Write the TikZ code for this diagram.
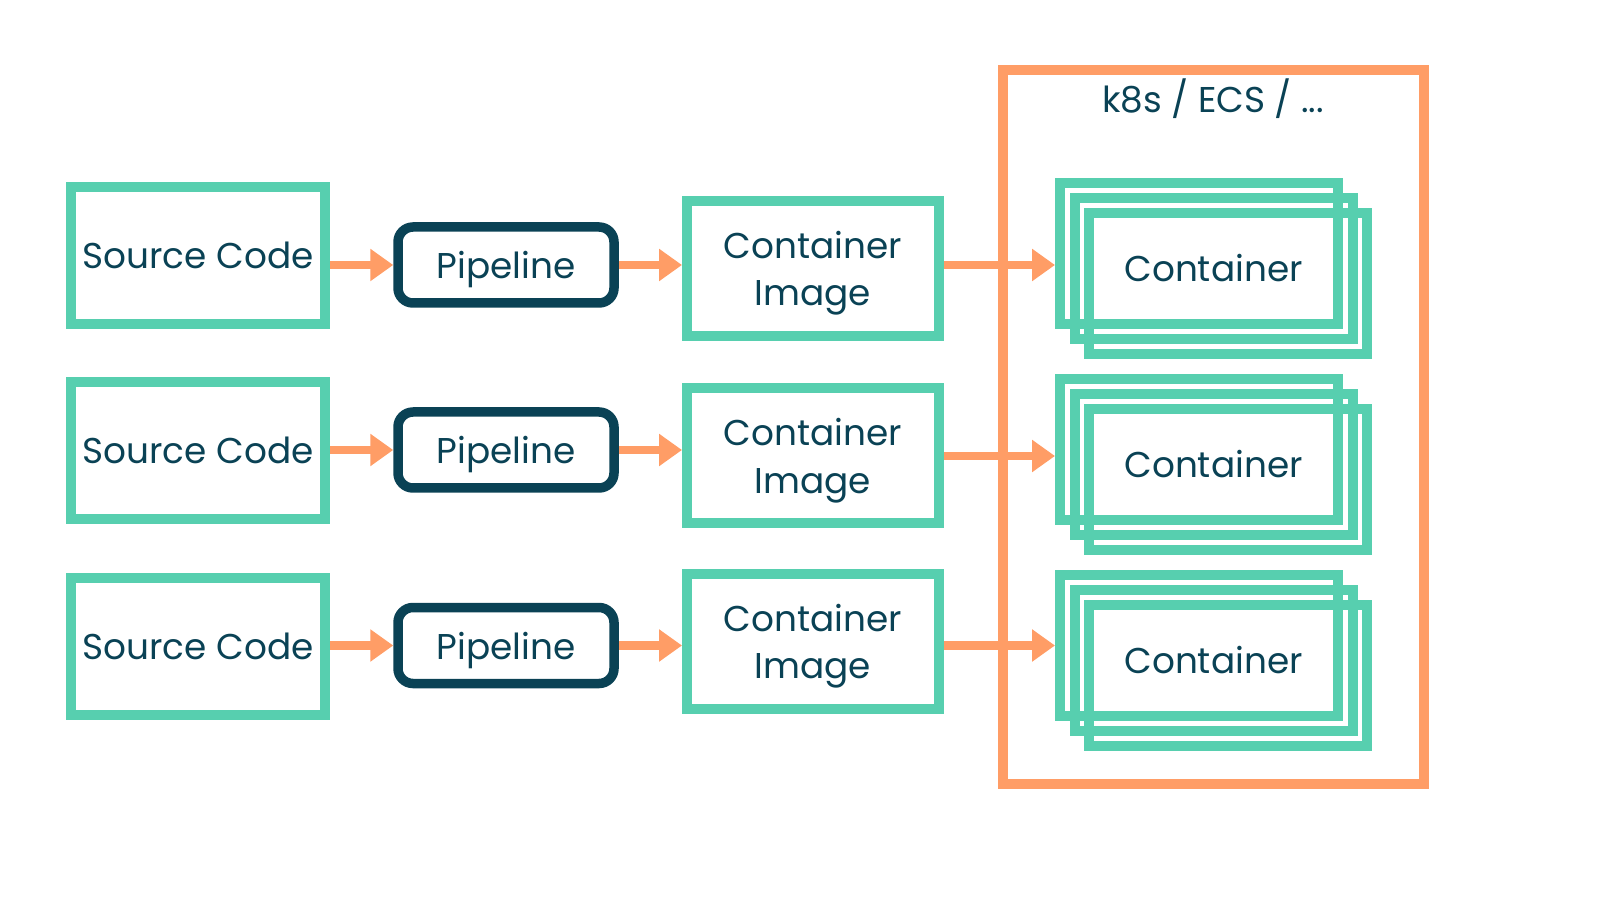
\documentclass[tikz,border=0pt]{standalone}
\usepackage{fontspec}
\setmainfont{Poppins}
\usetikzlibrary{arrows.meta}
\definecolor{mint}{HTML}{57CFAF}
\definecolor{navy}{HTML}{0A4255}
\definecolor{peach}{HTML}{FF9D66}

\begin{document}
\begin{tikzpicture}[
		every node/.style={text=navy, font=\fontsize{20.4}{27}\selectfont, align=center, inner sep=0pt},
		srcbox/.style={draw=mint, line width=0.2cm, minimum width=5.08cm, minimum height=2.74cm},
		pipebox/.style={draw=navy, line width=0.19cm, rounded corners=0.3cm, minimum width=4.32cm, minimum height=1.52cm, text depth=0pt},
		imgbox/.style={draw=mint, line width=0.2cm, minimum width=5.04cm, minimum height=2.7cm, text depth=-0.06cm},
		contbox/.style={draw=mint, line width=0.2cm, minimum width=5.56cm, minimum height=2.82cm},
		flow/.style={-{Triangle[length=0.46cm, width=0.62cm]}, draw=peach, line width=0.17cm}
	]
		\useasboundingbox (0,0) rectangle (32,18);

		% platform frame
		\node[draw=peach, line width=0.2cm, minimum width=8.42cm, minimum height=14.28cm] (platform) at (24.27,9.46) {};
		\node (platformlabel) at (24.26,16.02) {k8s / ECS / ...};

		% first row
		\node[srcbox] (src1) at (3.96,12.89) {Source Code};
		\node[pipebox] (pipe1) at (10.12,12.7) {Pipeline};
		\node[imgbox] (img1) at (16.26,12.63) {Container\\Image};
		\node[contbox] (cont1a) at (23.98,12.93) {};
		\node[contbox] (cont1b) at (24.27,12.63) {Container};
		\node[contbox] (cont1c) at (24.56,12.33) {};

		% second row
		\node[srcbox] (src2) at (3.96,8.99) {Source Code};
		\node[pipebox] (pipe2) at (10.12,9.0) {Pipeline};
		\node[imgbox] (img2) at (16.26,8.88) {Container\\Image};
		\node[contbox] (cont2a) at (23.98,9.01) {};
		\node[contbox] (cont2b) at (24.27,8.71) {Container};
		\node[contbox] (cont2c) at (24.56,8.41) {};

		% third row
		\node[srcbox] (src3) at (3.96,5.08) {Source Code};
		\node[pipebox] (pipe3) at (10.12,5.09) {Pipeline};
		\node[imgbox] (img3) at (16.26,5.17) {Container\\Image};
		\node[contbox] (cont3a) at (23.98,5.09) {};
		\node[contbox] (cont3b) at (24.27,4.79) {Container};
		\node[contbox] (cont3c) at (24.56,4.49) {};

		\draw[flow] (src1.east |- pipe1.west) -- (pipe1.west);
		\draw[flow] (pipe1.east) -- (img1.west |- pipe1.east);
		\draw[flow] (img1.east |- pipe1.east) -- (cont1a.west |- pipe1.east);

		\draw[flow] (src2.east |- pipe2.west) -- (pipe2.west);
		\draw[flow] (pipe2.east) -- (img2.west |- pipe2.east);
		\draw[flow] (img2.east) -- (cont2a.west |- img2.east);

		\draw[flow] (src3.east |- pipe3.west) -- (pipe3.west);
		\draw[flow] (pipe3.east) -- (img3.west |- pipe3.east);
		\draw[flow] (img3.east |- pipe3.east) -- (cont3a.west |- pipe3.east);

	\end{tikzpicture}
\end{document}
